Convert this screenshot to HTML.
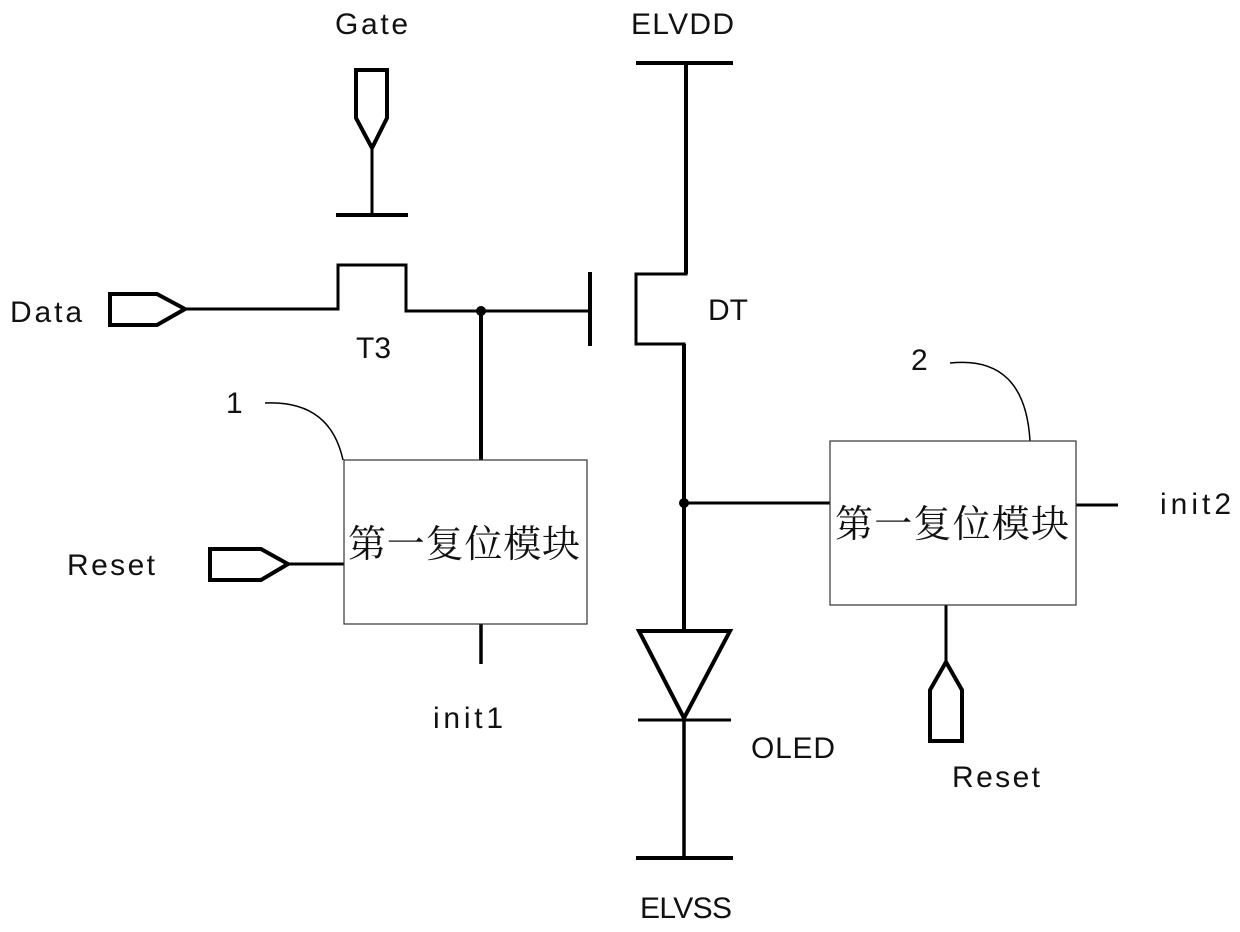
<!DOCTYPE html>
<html><head><style>
body{margin:0;background:#fff}
svg text{font-family:"Liberation Sans","Noto Sans CJK SC",sans-serif;fill:#111}
</style></head><body>
<svg width="1240" height="927" viewBox="0 0 1240 927" xmlns="http://www.w3.org/2000/svg">
<g fill="none" stroke="#000" stroke-width="4" stroke-linejoin="miter">
<path d="M356 70 H387 V118 L372 148 L356 118 Z"/>
<path d="M372 148 V215" stroke-width="3"/>
<path d="M336 215 H408"/>
<path d="M110 294 H157 L185 309 L157 325 H110 Z"/>
<path d="M185 309 H338 V265 H406 V311 H590" stroke-width="3"/>
<path d="M590 272 V346"/>
<path d="M481 311 V460"/>
<path d="M636 63 H733"/>
<path d="M686 63 V274 H636 V344 H684 V630" stroke-width="3"/>
<path d="M686 63 V274" />
<path d="M684 344 V630"/>
<path d="M684 503 H830" stroke-width="3"/>
<path d="M639 631 H730 L684 718 Z"/>
<path d="M638 720 H731" stroke-width="3"/>
<path d="M684 720 V858" stroke-width="3.5"/>
<path d="M636 858 H733"/>
<path d="M481 624 V664" stroke-width="3.5"/>
<path d="M210 549 H261 L288 564 L261 580 H210 Z"/>
<path d="M288 564 H344" stroke-width="3"/>
<path d="M1076 505 H1118" stroke-width="3"/>
<path d="M946 605 V662" stroke-width="3"/>
<path d="M946 662 L962 690 V741 H930 V690 Z"/>
<path d="M265 403 Q330 400 343 460" stroke-width="1.5"/>
<path d="M950 363 Q1025 355 1030 441" stroke-width="1.5"/>
</g>
<rect x="344" y="460" width="243" height="164" fill="#fff" stroke="#333" stroke-width="1.2"/>
<rect x="830" y="441" width="246" height="164" fill="#fff" stroke="#333" stroke-width="1.2"/>
<circle cx="481" cy="311" r="5"/>
<circle cx="684" cy="503" r="5"/>
<g font-size="30">
<text x="335" y="34" textLength="73">Gate</text>
<text x="631" y="34" textLength="103">ELVDD</text>
<text x="10" y="322" textLength="72">Data</text>
<text x="356" y="358">T3</text>
<text x="708" y="320">DT</text>
<text x="67" y="575" textLength="88">Reset</text>
<text x="433" y="728" textLength="70">init1</text>
<text x="751" y="758" textLength="84">OLED</text>
<text x="1160" y="514" textLength="71">init2</text>
<text x="952" y="787" textLength="88">Reset</text>
<text x="640" y="918" textLength="92">ELVSS</text>
<text x="226" y="413">1</text>
<text x="911" y="370">2</text>
</g>
<text x="348" y="557" font-size="38" style="font-family:'Noto Serif CJK SC',serif" textLength="232">第一复位模块</text>
<text x="835" y="537" font-size="38" style="font-family:'Noto Serif CJK SC',serif" textLength="234">第一复位模块</text>
</svg>
</body></html>
